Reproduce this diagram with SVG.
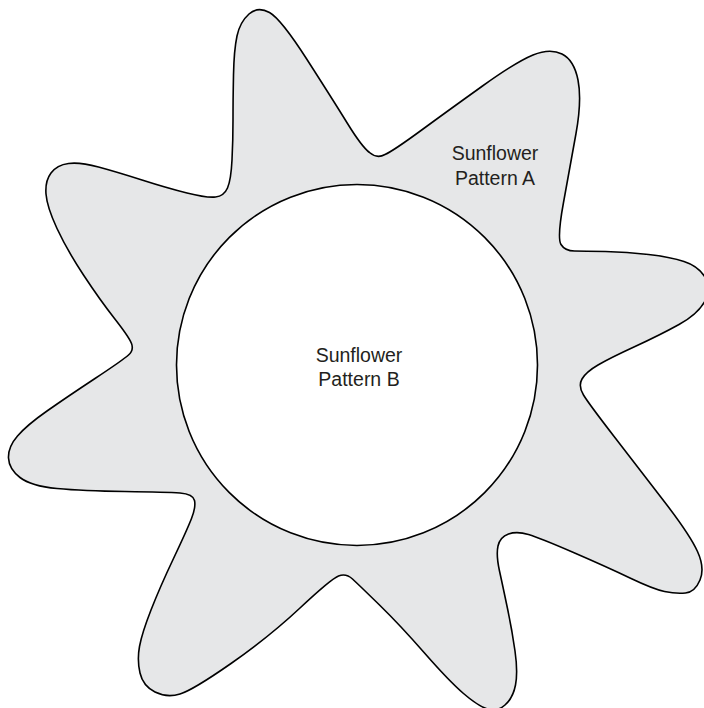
<svg xmlns="http://www.w3.org/2000/svg" width="704" height="708" viewBox="0 0 704 708">
<style>
.shape{stroke:#000;stroke-width:1.6;stroke-linejoin:round}
.lbl{font-family:"Liberation Sans",Arial,sans-serif;font-size:19.5px;fill:#231f20;text-anchor:middle}
</style>
<rect width="704" height="708" fill="#fff"/>
<g id="sunflower-a">
<path class="shape" fill="#e6e7e8" d="M249,14 Q258,6 269.5,12.5 Q281,19 307,59.5 Q333,100 347.5,123.5 Q362,147 369.5,152.5 Q377,159 385,154.5 Q393,151 421,130.5 Q449,110 482.5,86 Q516,62 533,55 Q550,48 562,54 Q574,60 578,80 Q582,100 576,133.5 Q570,167 563.5,202.5 Q557,238 561,244.5 Q565,251 574.5,251 Q584,251 605.5,251.5 Q627,252 648.5,254.5 Q670,257 684,261.5 Q698,266 705,277 Q712,288 705,301 Q698,314 679,324.5 Q660,335 635,346.5 Q610,358 598,365 Q586,372 582,379 Q578,386 583.5,395 Q589,404 614.5,437 Q640,470 665,502.5 Q690,535 697.5,551.5 Q705,568 700,580 Q695,592 685.5,593 Q676,594 664.5,591.5 Q653,589 630,578 Q607,567 573.5,552.5 Q540,538 528.5,534.5 Q517,531 508.5,534 Q500,537 498,546 Q496,555 499.5,571 Q503,587 507.5,608.5 Q512,630 515,651 Q518,672 515.5,685 Q513,698 505,705 Q497,712 487.5,709 Q478,706 463.5,693.5 Q449,681 424.5,653 Q400,625 379.5,605 Q359,585 352.5,579 Q346,573 338.5,576 Q331,579 300,608 Q269,637 231,663.5 Q193,690 180,694 Q167,698 155,692 Q143,686 140,673 Q137,660 139.5,646.5 Q142,633 151,610 Q160,587 173.5,558.5 Q187,530 191.5,518.5 Q196,507 194.5,500.5 Q193,494 180,493 Q167,492 125,491.5 Q83,491 57,488.5 Q31,486 20,477.5 Q9,469 8.5,458 Q8,447 17.5,436 Q27,425 47,411 Q67,397 95,378.5 Q123,360 128.5,355 Q134,350 131.5,343.5 Q129,337 114.5,318.5 Q100,300 83.5,275 Q67,250 57,228.5 Q47,207 46,194 Q45,181 51,173 Q57,165 68.5,163.5 Q80,162 98.5,167 Q117,172 142,180 Q167,188 187,193 Q207,198 215.5,197 Q224,196 227.5,188 Q231,180 232,160 Q233,140 233,120 Q233,100 233.5,75 Q234,50 237,36 Q240,22 249,14 Z"/>
<text class="lbl" x="495" y="160">Sunflower</text>
<text class="lbl" x="495" y="185">Pattern A</text>
</g>
<g id="sunflower-b">
<circle class="shape" cx="357" cy="365" r="180.5" fill="#fff"/>
<text class="lbl" x="359" y="362">Sunflower</text>
<text class="lbl" x="359" y="386">Pattern B</text>
</g>
</svg>
